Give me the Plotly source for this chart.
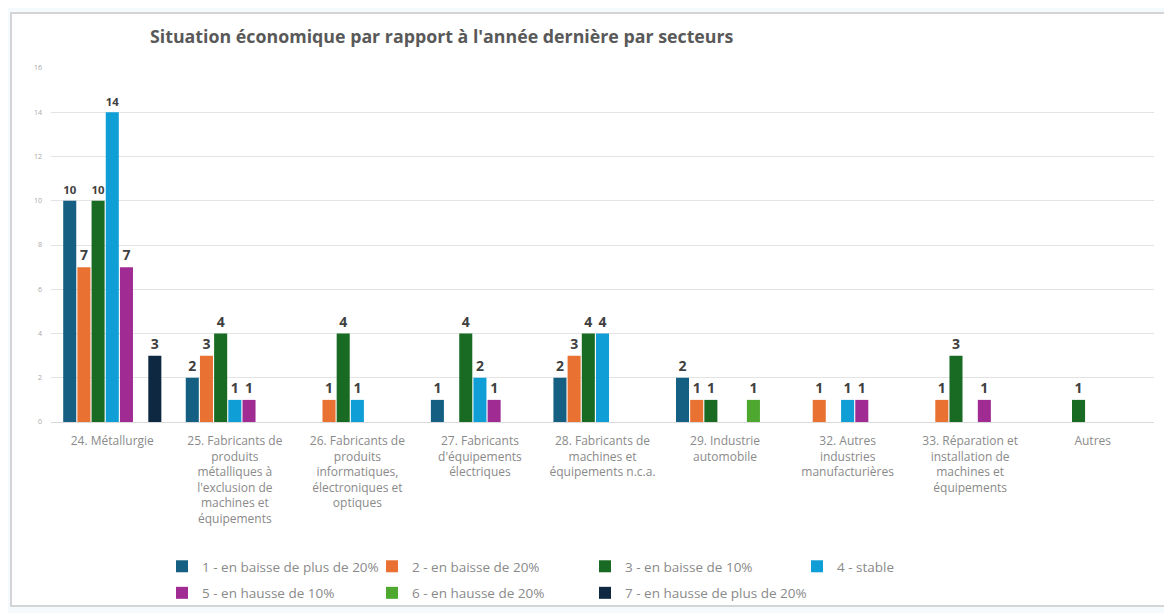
import plotly.graph_objects as go

categories = [
    "24. Métallurgie",
    "25. Fabricants de<br>produits<br>métalliques à<br>l'exclusion de<br>machines et<br>équipements",
    "26. Fabricants de<br>produits<br>informatiques,<br>électroniques et<br>optiques",
    "27. Fabricants<br>d'équipements<br>électriques",
    "28. Fabricants de<br>machines et<br>équipements n.c.a.",
    "29. Industrie<br>automobile",
    "32. Autres<br>industries<br>manufacturières",
    "33. Réparation et<br>installation de<br>machines et<br>équipements",
    "Autres",
]

series_names = [
    "1 - en baisse de plus de 20%",
    "2 - en baisse de 20%",
    "3 - en baisse de 10%",
    "4 - stable",
    "5 - en hausse de 10%",
    "6 - en hausse de 20%",
    "7 - en hausse de plus de 20%",
]

s1 = [10, 2, None, 1, 2, 2, None, None, None]
s2 = [7, 3, 1, None, 3, 1, 1, 1, None]
s3 = [10, 4, 4, 4, 4, 1, None, 3, 1]
s4 = [14, 1, 1, 2, 4, None, 1, None, None]
s5 = [7, 1, None, 1, None, None, 1, 1, None]
s6 = [None, None, None, None, None, 1, None, None, None]
s7 = [3, None, None, None, None, None, None, None, None]

series_values = [s1, s2, s3, s4, s5, s6, s7]
colors = ["#156082", "#E97132", "#196B24", "#0F9ED5", "#A02B93", "#4EA72E", "#0E2841"]

y_ticks = [0, 2, 4, 6, 8, 10, 12, 14, 16]

# legend columns (series index -> legend id), laid out like the original 4 x 2 grid
legend_ids = ["legend", "legend2", "legend3", "legend4", "legend", "legend2", "legend3"]

fig = go.Figure()
for i, (name, vals, col) in enumerate(zip(series_names, series_values, colors)):
    fig.add_trace(go.Bar(
        x=categories, y=vals, name=name, marker_color=col,
        marker_line_width=0,
        texttemplate="%{y}", textposition="outside",
        textfont=dict(family="Open Sans", size=14, color="#404040", weight="bold"),
        cliponaxis=False,
        legend=legend_ids[i], legendgroup=f"g{i}",
    ))

# page body has an 8px offset; work in reference pixel coordinates
OFF = 8
W, H = 1172 - OFF, 613 - OFF
left_px, right_px, top_px, bottom_px = 51, 1154, 68, 422  # reference coords
ml = left_px - OFF
mr = W - (right_px - OFF)
mt = top_px - OFF
mb = H - (bottom_px - OFF)
pw = W - ml - mr
ph = H - mt - mb

def px_x(p):
    return (p - OFF - ml) / pw

def px_y(p):
    return (H - mb - (p - OFF)) / ph

fig.add_shape(type="rect", xref="paper", yref="paper",
              x0=px_x(11), x1=px_x(1165), y0=px_y(606), y1=px_y(13),
              line=dict(color="#c8c8c8", width=1.5), fillcolor="white", layer="below")

legend_font = dict(family="Open Sans", size=13.5, color="#8a8a8a")

def legend_cfg(xpix):
    return dict(orientation="v", x=px_x(xpix), xanchor="left", y=px_y(551), yanchor="top",
                font=legend_font, bgcolor="rgba(0,0,0,0)", itemwidth=30,
                tracegroupgap=6, traceorder="grouped")

fig.update_layout(
    width=W, height=H,
    margin=dict(l=ml, r=mr, t=mt, b=mb, autoexpand=False),
    paper_bgcolor="#f5fbfd",
    plot_bgcolor="rgba(0,0,0,0)",
    barmode="group", bargap=0.19, bargroupgap=0.08,
    title=dict(text="<b>Situation économique par rapport à l'année dernière par secteurs</b>",
               x=(150 - OFF) / W, xanchor="left", y=1 - (37 - OFF) / H, yanchor="middle",
               font=dict(family="Open Sans", size=17.8, color="#595959")),
    xaxis=dict(tickfont=dict(family="Open Sans", size=12, color="#8a8a8a"),
               showgrid=False, showline=False, ticks="", ticklabelstandoff=10),
    yaxis=dict(range=[0, 16], tickvals=y_ticks, showgrid=True, gridcolor="#e3e3e3",
               zeroline=True, zerolinecolor="#d9d9d9", zerolinewidth=1,
               tickfont=dict(family="Open Sans", size=7, color="#a6a6a6"),
               ticklabelstandoff=8),
    legend=legend_cfg(162),
    legend2=legend_cfg(372),
    legend3=legend_cfg(585),
    legend4=legend_cfg(797),
    showlegend=True,
)

fig.write_html("out.html")
